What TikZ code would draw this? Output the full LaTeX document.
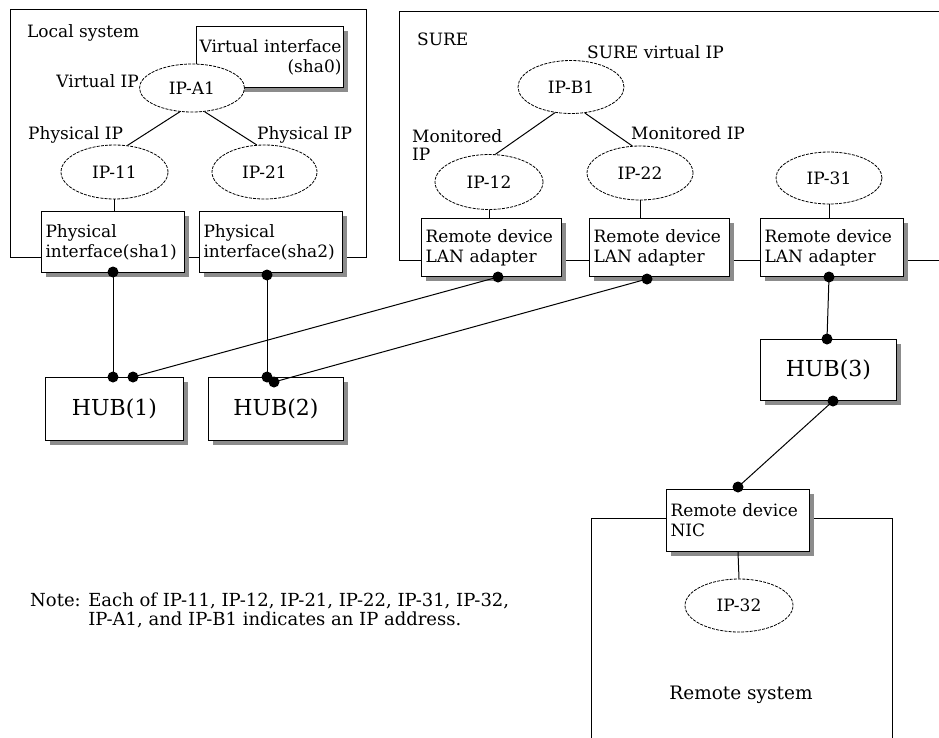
\documentclass[tikz,border=0pt]{standalone}
\usepackage{fontspec}
\setmainfont{DejaVu Serif}
\usetikzlibrary{shapes.geometric,shadows}
\begin{document}
\begin{tikzpicture}[x=1pt,y=-1pt,
  lbl/.style={font=\fontsize{17}{20}\selectfont, inner sep=0pt},
  container/.style={draw, line width=1pt, inner sep=0pt, anchor=north west},
  devbox/.style={draw, line width=1pt, fill=white, inner sep=4pt, anchor=north west,
    align=left, font=\fontsize{17}{20}\selectfont,
    drop shadow={shadow xshift=4pt, shadow yshift=-4pt, fill=black!45, opacity=1}},
  hubbox/.style={devbox, font=\fontsize{22}{26}\selectfont, align=center},
  ipell/.style={ellipse, draw, line width=0.8pt, dash pattern=on 3pt off 1.2pt,
    fill=white, inner sep=0pt, font=\fontsize{17}{20}\selectfont},
  dotn/.style={circle, fill=black, inner sep=0pt, minimum size=11pt},
  wire/.style={line width=1pt}]
\useasboundingbox (0,0) rectangle (939,737);
\clip (0,0) rectangle (939,737);
\fill[white] (0,0) rectangle (939,737);

% containers
\node[container, minimum width=356pt, minimum height=248pt] (local) at (10,9) {};
\node[container, minimum width=560pt, minimum height=249pt] (sure) at (399,11) {};
\node[container, minimum width=301pt, minimum height=282pt] (remote) at (591,518) {};

% virtual interface box (below the IP-A1 ellipse)
\node[devbox, minimum width=147pt, text width=143pt, inner xsep=2pt, minimum height=61pt, align=right] (vif) at (196,26) {\mbox{Virtual interface}\\(sha0)};

% ellipses
\node[ipell, minimum width=105pt, minimum height=48pt] (ipA1) at (192,88) {IP-A1};
\node[ipell, minimum width=107pt, minimum height=54pt] (ip11) at (114.5,172) {IP-11};
\node[ipell, minimum width=105pt, minimum height=54pt] (ip21) at (264.5,172) {IP-21};
\node[ipell, minimum width=106pt, minimum height=53pt] (ipB1) at (571,87) {IP-B1};
\node[ipell, minimum width=108pt, minimum height=55pt] (ip12) at (489,182) {IP-12};
\node[ipell, minimum width=106pt, minimum height=54pt] (ip22) at (640,173) {IP-22};
\node[ipell, minimum width=106pt, minimum height=52pt] (ip31) at (829,178) {IP-31};
\node[ipell, minimum width=108pt, minimum height=53pt] (ip32) at (739,605.5) {IP-32};

% boxes
\node[devbox, minimum width=143pt, text width=135pt, minimum height=61pt] (sha1) at (41,211) {Physical\\interface(sha1)};
\node[devbox, minimum width=143pt, text width=135pt, minimum height=61pt] (sha2) at (199,211) {Physical\\interface(sha2)};
\node[devbox, minimum width=140pt, text width=132pt, minimum height=58pt] (lan1) at (421,218) {Remote device\\LAN adapter};
\node[devbox, minimum width=140pt, text width=132pt, minimum height=58pt] (lan2) at (589,218) {Remote device\\LAN adapter};
\node[devbox, minimum width=143pt, text width=135pt, minimum height=58pt] (lan3) at (760,218) {Remote device\\LAN adapter};
\node[hubbox, minimum width=138pt, text width=130pt, minimum height=63pt] (hub1) at (45,377) {HUB(1)};
\node[hubbox, minimum width=135pt, text width=127pt, minimum height=63pt] (hub2) at (208,377) {HUB(2)};
\node[hubbox, minimum width=136pt, text width=128pt, minimum height=61pt] (hub3) at (760,339) {HUB(3)};
\node[devbox, minimum width=143pt, text width=135pt, minimum height=62pt] (nic) at (666,489) {Remote device\\NIC};

% ellipse-to-ellipse and ellipse-to-box connectors
\draw[wire] (ipA1.243) -- (ip11.64);
\draw[wire] (ipA1.298) -- (ip21.106);
\draw[wire] (ipB1.238) -- (ip12.77);
\draw[wire] (ipB1.298) -- (ip22.106);
\draw[wire] (ip11.south) -- (ip11.south |- sha1.north);
\draw[wire] (ip12.south) -- (ip12.south |- lan1.north);
\draw[wire] (ip22.south) -- (ip22.south |- lan2.north);
\draw[wire] (ip31.south) -- (ip31.south |- lan3.north);
\draw[wire] (nic.south) -- (ip32.north);

% dots
\node[dotn] (d1) at (113,272) {};
\node[dotn] (d2) at (267,275) {};
\node[dotn] (d3) at (498,277) {};
\node[dotn] (d4) at (647,279) {};
\node[dotn] (d5) at (829,277) {};
\node[dotn] (h1a) at (113,377) {};
\node[dotn] (h1b) at (133,377) {};
\node[dotn] (h2a) at (267,377) {};
\node[dotn] (h2b) at (274,382) {};
\node[dotn] (h3a) at (827,339) {};
\node[dotn] (h3b) at (833,401) {};
\node[dotn] (n1) at (738,487) {};

% network wires
\draw[wire] (d1.center) -- (h1a.center);
\draw[wire] (d2.center) -- (h2a.center);
\draw[wire] (d3.center) -- (h1b.center);
\draw[wire] (d4.center) -- (h2b.center);
\draw[wire] (d5.center) -- (h3a.center);
\draw[wire] (h3b.center) -- (n1.center);

% labels
\node[lbl, anchor=west] (tlocal) at (27,33) {Local system};
\node[lbl, anchor=east] (tvip) at (139,81) {Virtual IP};
\node[lbl, anchor=west] (tpip1) at (28,135) {Physical IP};
\node[lbl, anchor=west] (tpip2) at (257,135) {Physical IP};
\node[lbl, anchor=west] (tsure) at (417,39) {SURE};
\node[lbl, anchor=west] (tsvip) at (587,52) {SURE virtual IP};
\node[lbl, anchor=north west, align=left, font=\fontsize{17}{18}\selectfont] (tmon1) at (412,129) {Monitored\\IP};
\node[lbl, anchor=west] (tmon2) at (631,133) {Monitored IP};
\node[lbl, font=\fontsize{18.5}{20}\selectfont] (trem) at (741,695) {Remote system};
\node[lbl, anchor=north west, align=left, font=\fontsize{18}{19}\selectfont] (tnote) at (30,593) {Note: Each of IP-11, IP-12, IP-21, IP-22, IP-31, IP-32,\\\phantom{Note: }IP-A1, and IP-B1 indicates an IP address.};
\end{tikzpicture}
\end{document}
